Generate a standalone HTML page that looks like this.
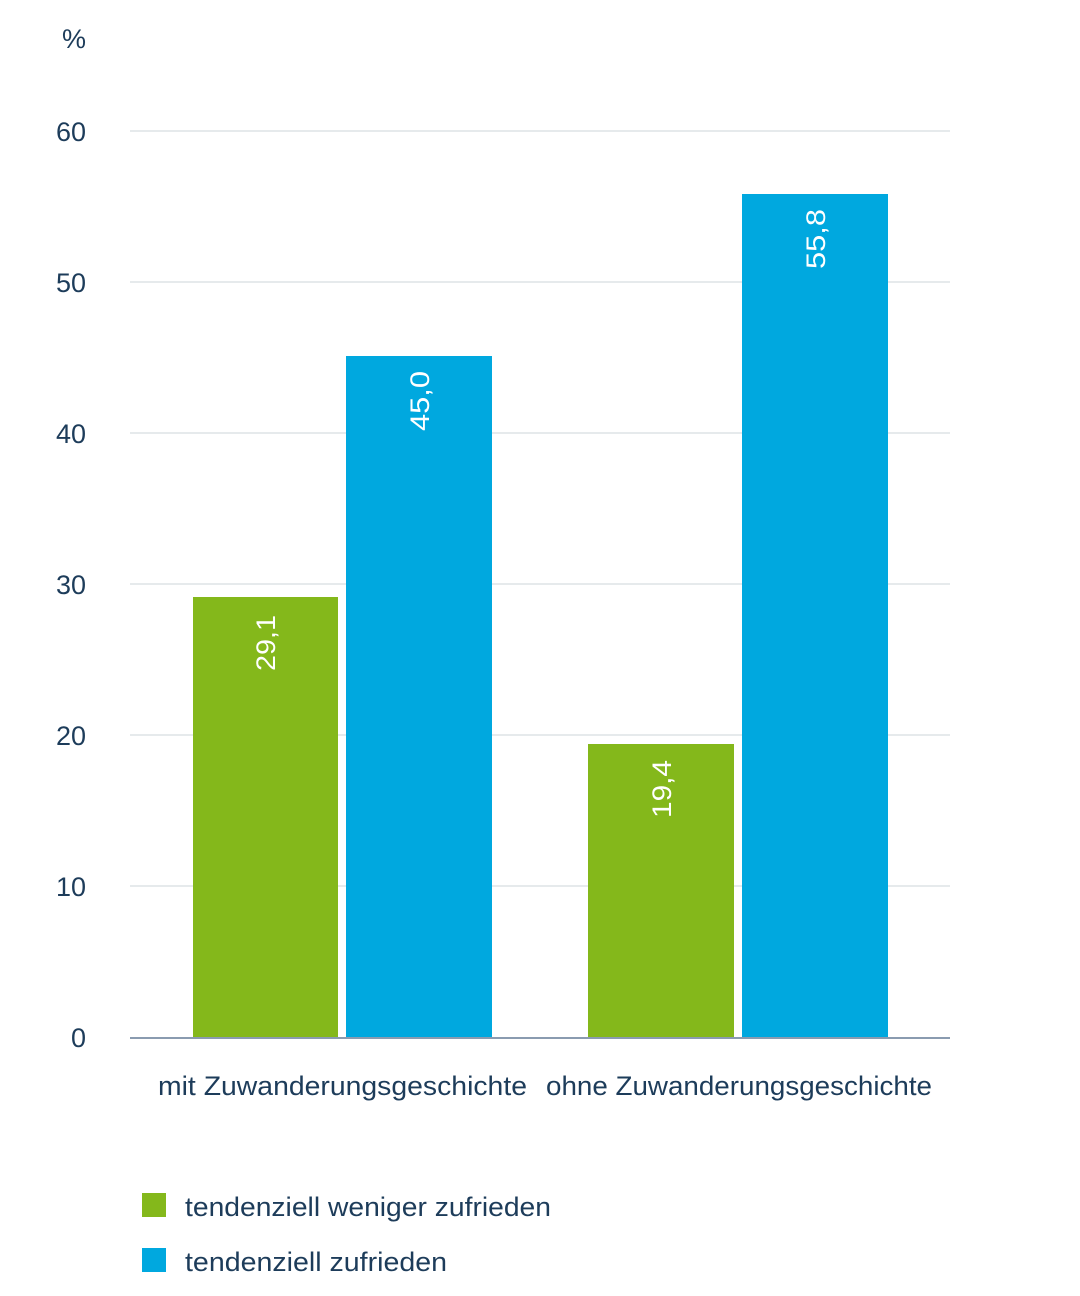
<!DOCTYPE html>
<html><head><meta charset="utf-8"><style>
html,body{margin:0;padding:0;background:#fff;}
svg{display:block;}
text{font-family:"Liberation Sans",sans-serif;}
</style></head><body>
<svg width="1080" height="1296" viewBox="0 0 1080 1296" xmlns="http://www.w3.org/2000/svg">
<g stroke="#e6eaec" stroke-width="2">
<line x1="130" y1="131" x2="950" y2="131"/>
<line x1="130" y1="282" x2="950" y2="282"/>
<line x1="130" y1="433" x2="950" y2="433"/>
<line x1="130" y1="584" x2="950" y2="584"/>
<line x1="130" y1="735" x2="950" y2="735"/>
<line x1="130" y1="886" x2="950" y2="886"/>
</g>
<g fill="#1d3c5a" font-size="27" text-anchor="end">
<text x="86" y="48">%</text>
<text x="86" y="141">60</text>
<text x="86" y="292">50</text>
<text x="86" y="443">40</text>
<text x="86" y="594">30</text>
<text x="86" y="745">20</text>
<text x="86" y="896">10</text>
<text x="86" y="1047">0</text>
</g>
<rect x="193" y="597" width="145" height="440" fill="#84b81b"/>
<rect x="346" y="356" width="146" height="681" fill="#00a8df"/>
<rect x="588" y="744" width="146" height="293" fill="#84b81b"/>
<rect x="742" y="194" width="146" height="843" fill="#00a8df"/>
<line x1="130" y1="1038" x2="950" y2="1038" stroke="#8a9bb0" stroke-width="2"/>
<g fill="#fff" font-size="27">
<text transform="translate(275,671) rotate(-90)" textLength="56" lengthAdjust="spacingAndGlyphs">29,1</text>
<text transform="translate(429,431) rotate(-90)" textLength="60" lengthAdjust="spacingAndGlyphs">45,0</text>
<text transform="translate(671,818) rotate(-90)" textLength="58" lengthAdjust="spacingAndGlyphs">19,4</text>
<text transform="translate(825,269) rotate(-90)" textLength="60" lengthAdjust="spacingAndGlyphs">55,8</text>
</g>
<g fill="#1d3c5a" font-size="27">
<text x="158" y="1095" textLength="369" lengthAdjust="spacingAndGlyphs">mit Zuwanderungsgeschichte</text>
<text x="546" y="1095" textLength="386" lengthAdjust="spacingAndGlyphs">ohne Zuwanderungsgeschichte</text>
<text x="185" y="1216" textLength="366" lengthAdjust="spacingAndGlyphs">tendenziell weniger zufrieden</text>
<text x="185" y="1271" textLength="262" lengthAdjust="spacingAndGlyphs">tendenziell zufrieden</text>
</g>
<rect x="142" y="1193" width="24" height="24" fill="#84b81b"/>
<rect x="142" y="1248" width="24" height="24" fill="#00a8df"/>
</svg>
</body></html>
